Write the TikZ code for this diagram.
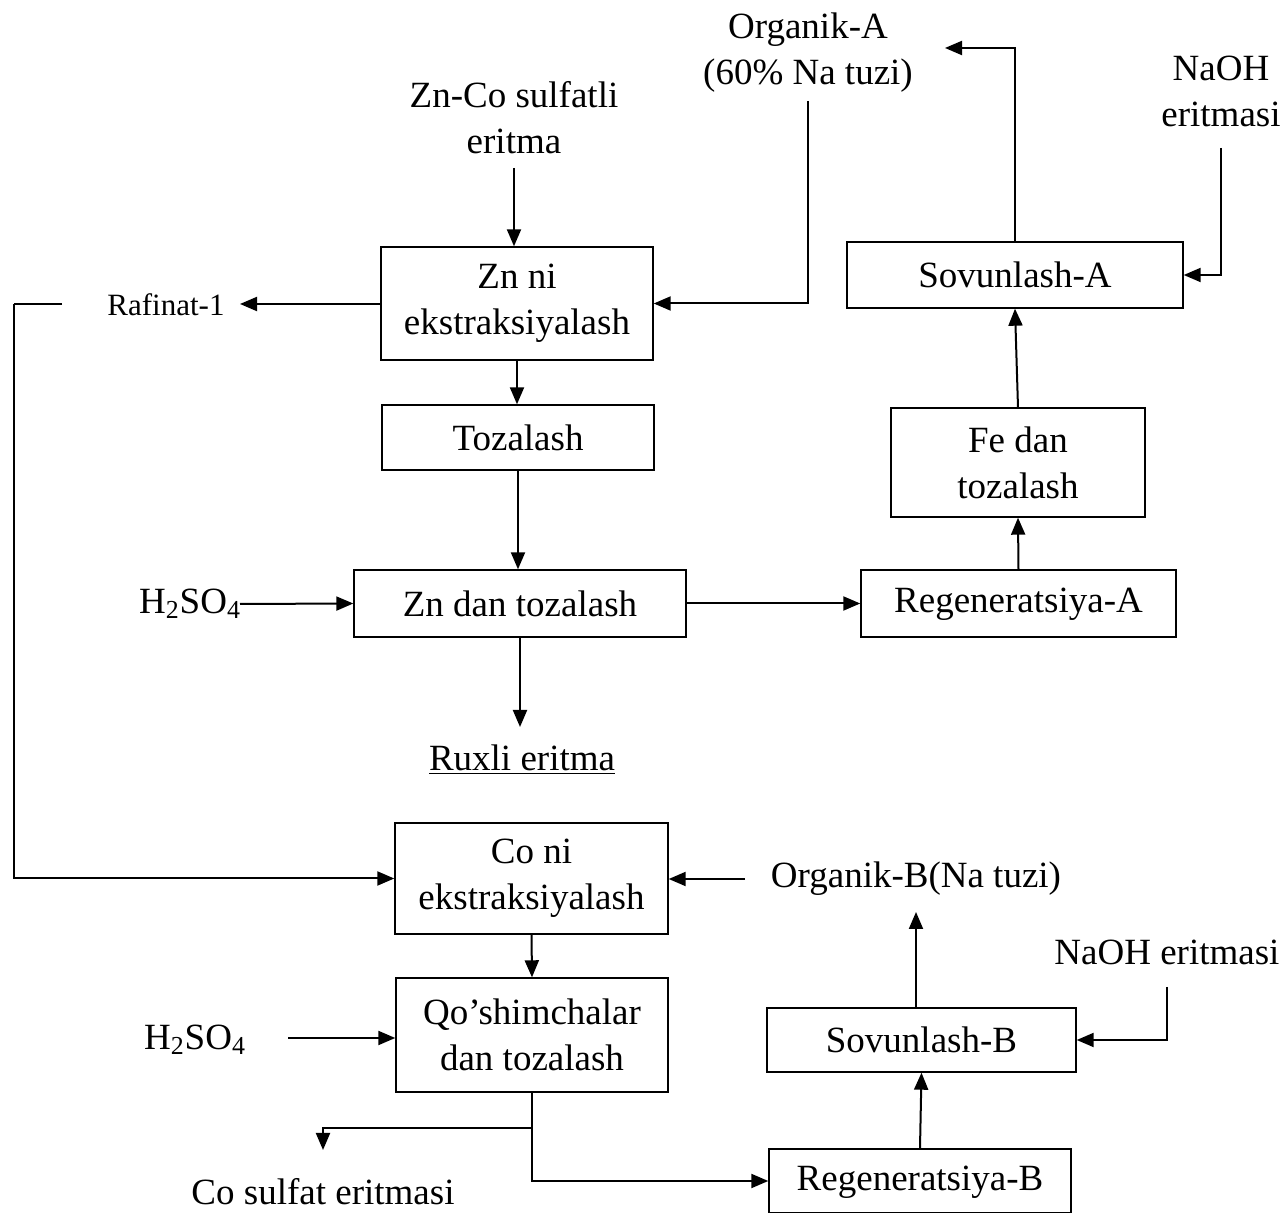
\documentclass[tikz,border=0pt]{standalone}
\usepackage{fontspec}
\setmainfont{Liberation Serif}
\usetikzlibrary{arrows.meta}
\begin{document}
\begin{tikzpicture}[x=0.5pt,y=-0.5pt,
  box/.style={draw,line width=0.7pt,inner sep=0pt,align=center,font=\fontsize{18.5}{23}\selectfont},
  txt/.style={inner sep=0pt,align=center,font=\fontsize{18.5}{23}\selectfont},
  arr/.style={line width=1pt,-{Triangle[length=8.5pt,width=7pt]}},
  ln/.style={line width=1pt}]
\useasboundingbox (0,0) rectangle (1282,1213);
% boxes
\node[box,minimum width=136pt,minimum height=56.5pt] (zn) at (517,303.5) {Zn ni\\ekstraksiyalash};
\node[box,minimum width=136pt,minimum height=32.5pt] (toz) at (518,437.5) {Tozalash};
\node[box,minimum width=166pt,minimum height=33.5pt] (zndan) at (520,603.5) {Zn dan tozalash};
\node[box,minimum width=157.5pt,minimum height=33.5pt] (regA) at (1018.5,603.5) {Regeneratsiya-A\strut};
\node[box,minimum width=127pt,minimum height=54.5pt] (fe) at (1018,462.5) {Fe dan\\tozalash};
\node[box,minimum width=168pt,minimum height=33pt] (sovA) at (1015,275) {Sovunlash-A};
\node[box,minimum width=136.5pt,minimum height=55.5pt] (co) at (531.5,878.5) {Co ni\\ekstraksiyalash};
\node[box,minimum width=136pt,minimum height=57pt] (qo) at (532,1035) {Qo’shimchalar\\dan tozalash};
\node[box,minimum width=154.5pt,minimum height=32pt] (sovB) at (921.5,1040) {Sovunlash-B};
\node[box,minimum width=151pt,minimum height=32pt] (regB) at (920,1181) {Regeneratsiya-B\strut};
% texts
\node[txt] (znco) at (514,118) {Zn-Co sulfatli\\eritma};
\node[txt] (orgA) at (808,53) {Organik-A\\(60\% Na tuzi)};
\node[txt] (naohA) at (1221,91.5) {NaOH\\eritmasi};
\node[txt] (h1) at (190,604) {H\textsubscript{2}SO\textsubscript{4}};
\node[txt] (rux) at (522,760) {\underline{Ruxli eritma}};
\node[inner sep=0pt,font=\fontsize{15.5}{18}\selectfont] (raf) at (166,305) {Rafinat-1};
\node[txt] (orgB) at (916,879) {Organik-B(Na tuzi)};
\node[txt] (naohB) at (1167,952) {NaOH eritmasi};
\node[txt] (h2) at (195,1040) {H\textsubscript{2}SO\textsubscript{4}};
\node[txt] (cos) at (323,1192) {Co sulfat eritmasi};
% free-end coordinates
\coordinate (a1) at (514,168);
\coordinate (a2) at (808,101);
\coordinate (a3) at (945,48);
\coordinate (a4) at (1221,148);
\coordinate (a5) at (240,604);
\coordinate (a6) at (520,727);
\coordinate (a7) at (240,304);
\coordinate (a8) at (62,304);
\coordinate (a9) at (14,304);
\coordinate (b1) at (745,879);
\coordinate (b2) at (916,912);
\coordinate (b3) at (1167,987);
\coordinate (b4) at (288,1038);
\coordinate (b5) at (532,1128);
\coordinate (b6) at (323,1150);
% connectors
\draw[arr] (a1) -- (zn.north -| a1);
\draw[arr] (a2) |- (zn.east);
\draw[arr] (sovA.north) |- (a3);
\draw[arr] (a4) |- (sovA.east);
\draw[arr] (fe.north) -- (sovA.south);
\draw[arr] (regA.north) -- (fe.south);
\draw[arr] (zndan.east) -- (regA.west);
\draw[arr] (a5) -- (zndan.west);
\draw[arr] (zndan.south) -- (a6);
\draw[arr] (toz.south) -- (zndan.north -| toz.south);
\draw[arr] (zn.south) -- (toz.north -| zn.south);
\draw[arr] (zn.west |- a7) -- (a7);
\draw[ln] (a8) -- (a9);
\draw[arr] (a9) |- (co.west);
\draw[arr] (b1) -- (co.east |- b1);
\draw[arr] (sovB.north -| b2) -- (b2);
\draw[arr] (b3) |- (sovB.east);
\draw[arr] (regB.north) -- (sovB.south);
\draw[arr] (co.south) -- (qo.north);
\draw[arr] (b4) -- (qo.west |- b4);
\draw[ln] (qo.south) -- (b5);
\draw[arr] (b5) -| (b6);
\draw[arr] (b5) |- (regB.west);
\end{tikzpicture}
\end{document}
